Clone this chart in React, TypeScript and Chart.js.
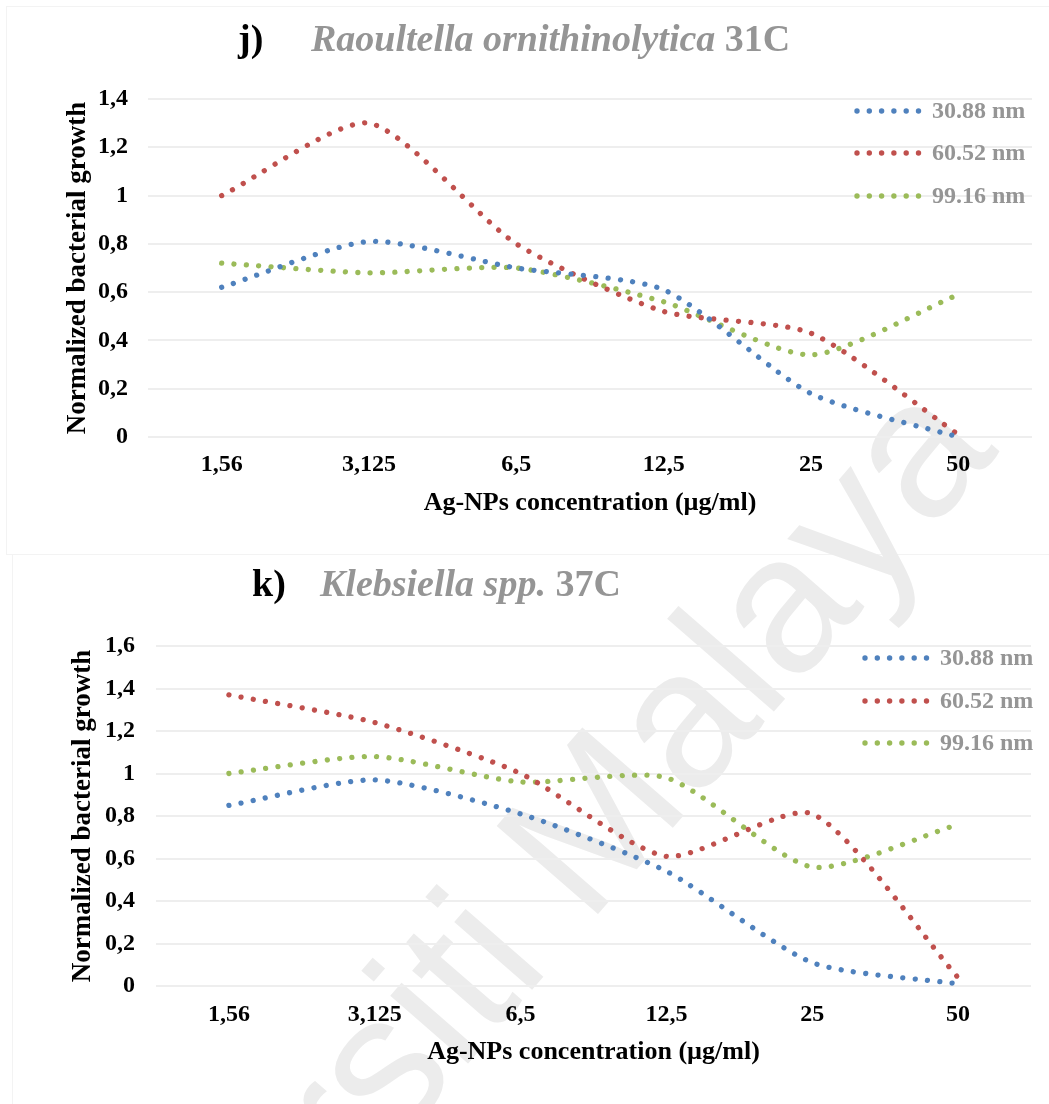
import React, { useEffect, useRef } from 'react';
import { Chart, registerables } from 'chart.js';

Chart.register(...registerables);

// ---------- data ----------
const categories = ['1,56', '3,125', '6,5', '12,5', '25', '50'];
const seriesLabels = ['30.88 nm', '60.52 nm', '99.16 nm'];
const seriesColors = ['#4F81BD', '#C0504D', '#9BBB59'];

const raoultella3088 = [0.62, 0.81, 0.7, 0.61, 0.18, 0.0];
const raoultella6052 = [1.0, 1.3, 0.8, 0.52, 0.43, 0.01];
const raoultella9916 = [0.72, 0.68, 0.7, 0.56, 0.34, 0.59];

const klebsiella3088 = [0.85, 0.97, 0.81, 0.54, 0.11, 0.01];
const klebsiella6052 = [1.37, 1.24, 1.0, 0.61, 0.81, 0.04];
const klebsiella9916 = [1.0, 1.08, 0.96, 0.98, 0.56, 0.76];

const yRangeRaoultella = [0, 1.4];
const yRangeKlebsiella = [0, 1.6];
const yStep = 0.2;

const xAxisTitle = 'Ag-NPs concentration (µg/ml)';
const yAxisTitle = 'Normalized bacterial growth';

const SERIF = "'Liberation Serif', 'Times New Roman', serif";

type PanelProps = {
  top: number;
  height: number;
  label: string;
  species: string;
  suffix: string;
  series: number[][];
  yRange: number[];
  layout: {
    titleX: number;
    speciesX: number;
    titleBase: number;
    plotLeft: number;
    plotRight: number;
    plotTop: number;
    plotBottom: number;
    yTitlePad: number;
    yTickPad: number;
    xTickPad: number;
    xTitlePad: number;
    legendDotX: number;
    legendTextX: number;
    legendY: number[];
  };
};

function Panel(props: PanelProps) {
  const ref = useRef<HTMLCanvasElement | null>(null);
  useEffect(() => {
    const canvas = ref.current;
    if (!canvas) return;
    const L = props.layout;
    const W = 1049;
    const H = props.height;

    const titlePlugin = {
      id: 'mixedTitle',
      afterDraw(chart: any) {
        const ctx = chart.ctx;
        ctx.save();
        ctx.textBaseline = 'alphabetic';
        ctx.textAlign = 'left';
        ctx.font = `bold 38px ${SERIF}`;
        ctx.fillStyle = '#000000';
        ctx.fillText(props.label, L.titleX, L.titleBase);
        ctx.font = `italic bold 38px ${SERIF}`;
        ctx.fillStyle = '#959595';
        ctx.fillText(props.species, L.speciesX, L.titleBase);
        const w = ctx.measureText(props.species + ' ').width;
        ctx.font = `bold 38px ${SERIF}`;
        ctx.fillText(props.suffix, L.speciesX + w, L.titleBase);
        ctx.restore();
      },
    };

    const legendPlugin = {
      id: 'innerLegend',
      afterDraw(chart: any) {
        const ctx = chart.ctx;
        ctx.save();
        chart.data.datasets.forEach((ds: any, i: number) => {
          const y = L.legendY[i];
          ctx.fillStyle = ds.borderColor;
          for (let k = 0; k < 6; k++) {
            ctx.beginPath();
            ctx.arc(L.legendDotX + k * 12.3, y, 2.7, 0, Math.PI * 2);
            ctx.fill();
          }
          ctx.font = `bold 24px ${SERIF}`;
          ctx.fillStyle = '#959595';
          ctx.textBaseline = 'middle';
          ctx.textAlign = 'left';
          ctx.fillText(ds.label, L.legendTextX, y + 1);
        });
        ctx.restore();
      },
    };

    const chart = new Chart(canvas, {
      type: 'line',
      data: {
        labels: categories,
        datasets: props.series.map((vals, i) => ({
          label: seriesLabels[i],
          data: vals,
          borderColor: seriesColors[i],
          backgroundColor: seriesColors[i],
          borderWidth: 5.3,
          borderDash: [0.001, 12.4],
          borderCapStyle: 'round' as const,
          pointRadius: 0,
          pointHoverRadius: 0,
          tension: 0.22,
          fill: false,
          clip: false as any,
        })),
      },
      options: {
        responsive: false,
        animation: false,
        events: [],
        layout: {
          padding: {
            left: 0,
            top: L.plotTop,
            right: W - L.plotRight,
            bottom: 0,
          },
        },
        plugins: {
          legend: { display: false },
          title: { display: false },
          tooltip: { enabled: false },
        },
        scales: {
          x: {
            type: 'category',
            offset: true,
            grid: { display: false, drawTicks: false },
            border: { display: false },
            ticks: {
              color: '#000000',
              font: { family: SERIF, size: 24, weight: 'bold' },
              padding: L.xTickPad,
              maxRotation: 0,
              autoSkip: false,
            },
            title: {
              display: true,
              text: xAxisTitle,
              color: '#000000',
              font: { family: SERIF, size: 26, weight: 'bold' },
              padding: { top: 0, bottom: L.xTitlePad },
            },
            afterFit: (scale: any) => {
              scale.height = H - L.plotBottom;
            },
          },
          y: {
            min: props.yRange[0],
            max: props.yRange[1],
            grid: { color: '#eeeeee', lineWidth: 2, drawTicks: false },
            border: { display: false },
            ticks: {
              stepSize: yStep,
              color: '#000000',
              font: { family: SERIF, size: 24, weight: 'bold' },
              padding: L.yTickPad,
              callback: (v: any) => String(Math.round(Number(v) * 10) / 10).replace('.', ','),
            },
            title: {
              display: true,
              text: yAxisTitle,
              color: '#000000',
              font: { family: SERIF, size: 27, weight: 'bold' },
              padding: { top: L.yTitlePad, bottom: 0 },
            },
            afterFit: (scale: any) => {
              scale.width = L.plotLeft;
            },
          },
        },
      },
      plugins: [titlePlugin, legendPlugin],
    });
    return () => chart.destroy();
  }, []);

  return (
    <canvas
      ref={ref}
      width={1049}
      height={props.height}
      style={{ position: 'absolute', left: 0, top: props.top, width: 1049, height: props.height }}
    />
  );
}

const WM = 195;

export default function App() {
  return (
    <div
      style={{
        position: 'absolute',
        left: 0,
        top: 0,
        width: 1049,
        height: 1104,
        overflow: 'hidden',
        background: '#ffffff',
      }}
    >
      <div
        style={{
          position: 'absolute',
          left: 6,
          top: 6,
          width: 1060,
          height: 547,
          border: '1px solid #f3f3f3',
        }}
      />
      <div
        style={{
          position: 'absolute',
          left: 12,
          top: 554,
          width: 1060,
          height: 600,
          border: '1px solid #f3f3f3',
        }}
      />
      <div
        style={{
          position: 'absolute',
          left: 26,
          top: 1407,
          fontFamily: "'Liberation Sans', Arial, sans-serif",
          fontSize: WM,
          lineHeight: 1,
          whiteSpace: 'nowrap',
          color: '#ececec',
          transform: 'rotate(-49deg)',
          transformOrigin: `0px ${0.8465 * WM}px`,
        }}
      >
        Universiti Malaya
      </div>
      <Panel
        top={0}
        height={552}
        label="j)"
        species="Raoultella ornithinolytica"
        suffix="31C"
        series={[raoultella3088, raoultella6052, raoultella9916]}
        yRange={yRangeRaoultella}
        layout={{
          titleX: 238,
          speciesX: 311,
          titleBase: 51,
          plotLeft: 148,
          plotRight: 1032,
          plotTop: 99,
          plotBottom: 437,
          yTitlePad: 62,
          yTickPad: 20,
          xTickPad: 13.6,
          xTitlePad: 33.4,
          legendDotX: 857,
          legendTextX: 932,
          legendY: [111, 153, 196],
        }}
      />
      <Panel
        top={552}
        height={552}
        label="k)"
        species="Klebsiella spp."
        suffix="37C"
        series={[klebsiella3088, klebsiella6052, klebsiella9916]}
        yRange={yRangeKlebsiella}
        layout={{
          titleX: 252,
          speciesX: 320,
          titleBase: 44,
          plotLeft: 156,
          plotRight: 1031,
          plotTop: 94,
          plotBottom: 434,
          yTitlePad: 67,
          yTickPad: 21,
          xTickPad: 14.6,
          xTitlePad: 36.4,
          legendDotX: 865,
          legendTextX: 940,
          legendY: [106, 149, 191],
        }}
      />
    </div>
  );
}
